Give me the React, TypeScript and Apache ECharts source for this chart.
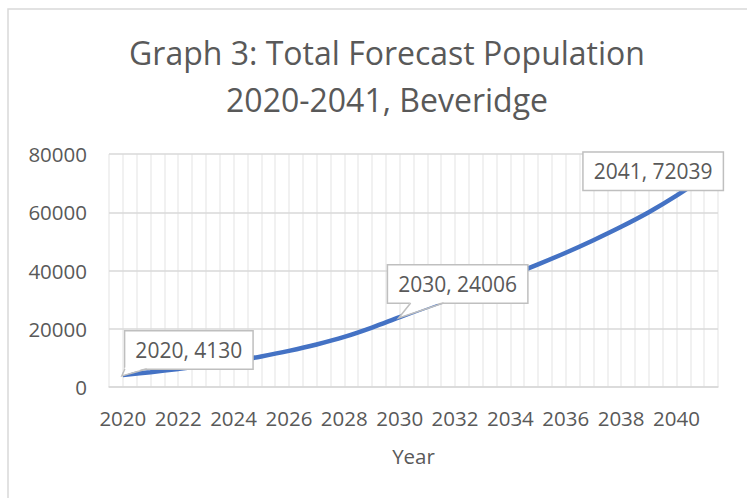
import React, { useEffect, useRef } from "react";
import * as echarts from "echarts";

const years: string[] = [
  "2020", "2021", "2022", "2023", "2024", "2025", "2026", "2027", "2028", "2029", "2030",
  "2031", "2032", "2033", "2034", "2035", "2036", "2037", "2038", "2039", "2040", "2041",
];
const population: number[] = [
  4130, 5100, 6200, 7400, 8800, 10500, 12400, 14600, 17200, 20400, 24006,
  27500, 31000, 34600, 38300, 42100, 46100, 50400, 55000, 60000, 65700, 72039,
];
const labelledYears: string[] = ["2020", "2030", "2041"];
const titleText = "Graph 3: Total Forecast Population\n2020-2041, Beveridge";
const xAxisName = "Year";

const FONT = "'Open Sans', sans-serif";
const TEXT = "#595959";

// label placement (centre offset from the point) and callout wedge (relative to point)
const labelOffsets: Record<string, { dx: number; dy: number; wedge?: [number, number, number] }> = {
  "2020": { dx: 66, dy: -25, wedge: [2, 24, -6] },
  "2030": { dx: 58, dy: -33, wedge: [11, 44, -14] },
  "2041": { dx: -51, dy: -6 },
};

export default function App() {
  const ref = useRef<HTMLDivElement>(null);
  useEffect(() => {
    if (!ref.current) return;
    const chart = echarts.init(ref.current, undefined, { renderer: "svg" });
    const data = population.map((v, i) => {
      const y = years[i];
      if (labelledYears.includes(y)) {
        return { value: v, label: { show: true } };
      }
      return { value: v };
    });
    chart.setOption({
      animation: false,
      backgroundColor: "#ffffff",
      textStyle: { fontFamily: FONT },
      title: {
        text: titleText,
        left: 382,
        top: 24,
        textAlign: "center",
        textStyle: {
          fontFamily: FONT,
          fontSize: 32,
          fontWeight: "normal",
          color: TEXT,
          lineHeight: 47,
        },
      },
      grid: { left: 109, right: 29, top: 154, bottom: 111, containLabel: false },
      xAxis: [
        {
          type: "category",
          data: years,
          boundaryGap: true,
          axisLine: { show: true, lineStyle: { color: "#d9d9d9", width: 1.5 } },
          axisTick: { show: false },
          splitLine: { show: false },
          axisLabel: {
            interval: 1,
            fontSize: 20.5,
            color: TEXT,
            fontFamily: FONT,
            margin: 20,
          },
          name: xAxisName,
          nameLocation: "middle",
          nameGap: 58,
          nameTextStyle: { fontSize: 20.5, color: TEXT, fontFamily: FONT },
        },
        {
          type: "value",
          min: 0,
          max: 44,
          interval: 1,
          show: true,
          position: "bottom",
          axisLine: { show: false },
          axisTick: { show: false },
          axisLabel: { show: false },
          splitLine: { show: true, lineStyle: { color: "#ececec", width: 1.5 } },
        },
      ],
      yAxis: {
        type: "value",
        min: 0,
        max: 80000,
        interval: 20000,
        axisLine: { show: false },
        axisTick: { show: false },
        axisLabel: {
          fontSize: 20.5,
          color: TEXT,
          fontFamily: FONT,
          margin: 22,
          formatter: (v: number) => String(v),
        },
        splitLine: { show: true, lineStyle: { color: "#d9d9d9", width: 1.5 } },
        z: 3,
      },
      series: [
        {
          type: "line",
          xAxisIndex: 0,
          yAxisIndex: 0,
          data,
          smooth: 0.35,
          showSymbol: true,
          symbol: "circle",
          symbolSize: 1,
          itemStyle: { color: "#4472C4" },
          lineStyle: { color: "#4472C4", width: 4.5 },
          label: {
            show: false,
            position: "inside",
            formatter: (p: any) => `${p.name}, ${p.value}`,
            fontFamily: FONT,
            fontSize: 21,
            lineHeight: 25,
            color: TEXT,
            backgroundColor: "#ffffff",
            borderColor: "#bfbfbf",
            borderWidth: 1.5,
            padding: [6, 10],
            align: "center",
            verticalAlign: "middle",
          },
          labelLayout: (params: any) => {
            const y = years[params.dataIndex];
            const o = labelOffsets[y];
            return o ? { dx: o.dx, dy: o.dy } : {};
          },
          emphasis: { disabled: true },
        },
      ],
    });

    const graphics: any[] = [
      {
        type: "rect",
        shape: { x: 8, y: 9, width: 800, height: 600 },
        style: { fill: "none", stroke: "#d9d9d9", lineWidth: 1.5 },
        z: 100,
        silent: true,
      },
    ];
    labelledYears.forEach((y) => {
      const o = labelOffsets[y];
      if (!o.wedge) return;
      const idx = years.indexOf(y);
      const p = chart.convertToPixel({ xAxisIndex: 0, yAxisIndex: 0 }, [idx, population[idx]]) as number[];
      const [a, b, h] = o.wedge;
      const baseY = p[1] + h;
      graphics.push({
        type: "polygon",
        shape: { points: [[p[0] + a, baseY - 1.5], [p[0] - 1, p[1] + 1], [p[0] + b, baseY - 1.5]] },
        style: { fill: "#ffffff", stroke: "none" },
        z: 100,
        silent: true,
      });
      graphics.push({
        type: "polyline",
        shape: { points: [[p[0] + a, baseY], [p[0] - 1, p[1] + 1], [p[0] + b, baseY]] },
        style: { fill: "none", stroke: "#bfbfbf", lineWidth: 1.5 },
        z: 101,
        silent: true,
      });
    });
    chart.setOption({ graphic: graphics });

    return () => chart.dispose();
  }, []);
  return (
    <div
      ref={ref}
      style={{ position: "fixed", left: 0, top: 0, width: 747, height: 498 }}
    />
  );
}
